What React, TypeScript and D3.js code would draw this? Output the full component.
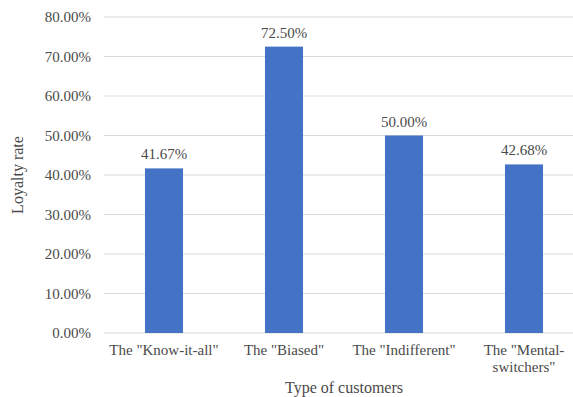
import React from "react";
import * as d3 from "d3";

const categories: string[][] = [
  ['The "Know-it-all"'],
  ['The "Biased"'],
  ['The "Indifferent"'],
  ['The "Mental-', 'switchers"'],
];
const loyaltyRates: number[] = [41.67, 72.5, 50.0, 42.68];
const yTicks: number[] = [0, 10, 20, 30, 40, 50, 60, 70, 80];

const W = 573;
const H = 397;
const margin = { left: 104, right: -11, top: 17, bottom: 64 };
const FONT = "Liberation Serif, Times New Roman, serif";
const TEXT = "#4a4a4a";
const textStyle: React.CSSProperties = { fontFamily: FONT };

export default function App() {
  const x = d3
    .scaleBand<number>()
    .domain(categories.map((_, i) => i))
    .range([margin.left, W - margin.right])
    .paddingInner(0.683)
    .paddingOuter(0.3415);
  const y = d3
    .scaleLinear()
    .domain([0, 80])
    .range([H - margin.bottom, margin.top]);

  return (
    <svg
      width={W}
      height={H}
      style={{ position: "absolute", left: 0, top: 0, background: "#fff", fontFamily: FONT }}
    >
      {yTicks.map((t) => (
        <g key={t}>
          <line
            x1={margin.left}
            x2={W - margin.right}
            y1={y(t)}
            y2={y(t)}
            stroke="#d9d9d9"
            strokeWidth={1.2}
          />
          <text
            x={91}
            y={y(t)}
            dy="0.35em"
            textAnchor="end"
            fontSize={15}
            fill={TEXT}
            style={textStyle}
          >
            {t.toFixed(2) + "%"}
          </text>
        </g>
      ))}
      {loyaltyRates.map((v, i) => (
        <g key={i}>
          <rect
            x={x(i)!}
            y={y(v)}
            width={x.bandwidth()}
            height={y(0) - y(v)}
            fill="#4472C4"
          />
          <text
            x={x(i)! + x.bandwidth() / 2}
            y={y(v) - 9}
            textAnchor="middle"
            fontSize={15}
            fill={TEXT}
            style={textStyle}
          >
            {v.toFixed(2) + "%"}
          </text>
        </g>
      ))}
      {categories.map((lines, i) =>
        lines.map((ln, j) => (
          <text
            key={i + "-" + j}
            x={x(i)! + x.bandwidth() / 2}
            y={355 + j * 17}
            textAnchor="middle"
            fontSize={15}
            fill={TEXT}
            style={textStyle}
          >
            {ln}
          </text>
        ))
      )}
      <text
        x={(margin.left + W - margin.right) / 2}
        y={393}
        textAnchor="middle"
        fontSize={16}
        fill={TEXT}
        style={textStyle}
      >
        Type of customers
      </text>
      <text
        transform={`translate(23, ${(y(0) + y(80)) / 2}) rotate(-90)`}
        textAnchor="middle"
        fontSize={16}
        fill={TEXT}
        style={textStyle}
      >
        Loyalty rate
      </text>
    </svg>
  );
}
